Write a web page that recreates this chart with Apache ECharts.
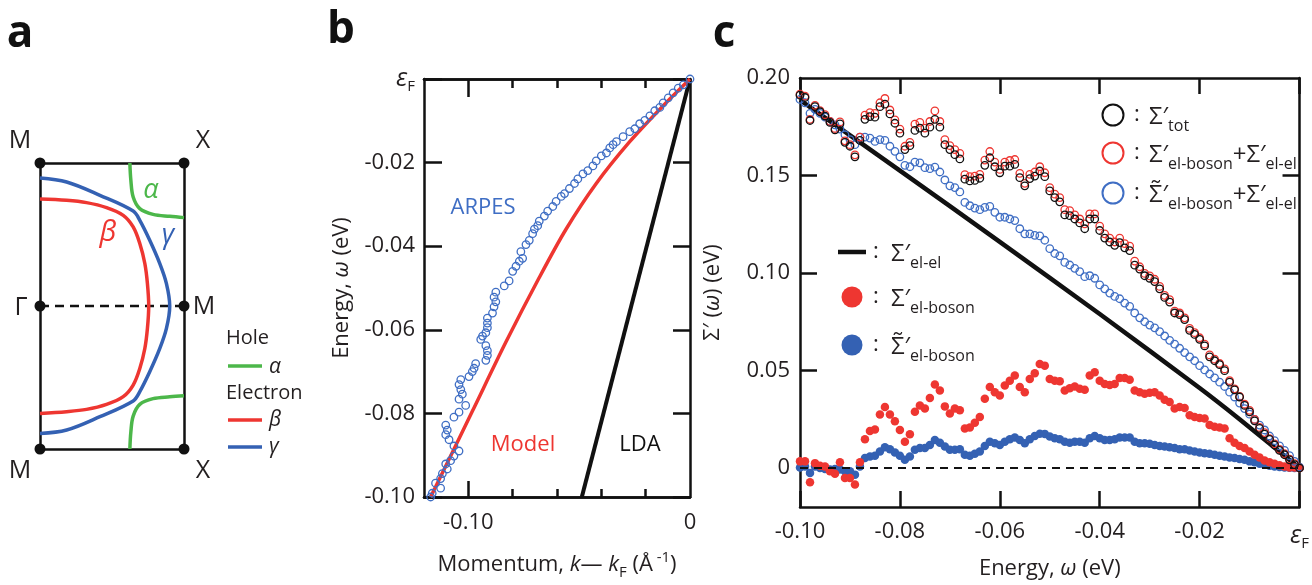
<!DOCTYPE html>
<html lang="en">
<head>
<meta charset="UTF-8">
<title>Fermi surface, dispersion and self-energy</title>
<style>
    html, body { margin: 0; padding: 0; background: #fff; }
    #chart { width: 1312px; height: 585px; }
</style>
</head>
<body>
<div id="chart"></div>
<script src="https://cdn.jsdelivr.net/npm/echarts@6/dist/echarts.min.js"></script>
<script>
// ---------- panel a : Fermi surface sketch, x 0..1 (left to right), y -1..1 (M to M)
var alphaTop    = [[0.624,1],[0.631,0.879],[0.647,0.762],[0.693,0.681],[0.785,0.641],[0.901,0.627],[1,0.618]];
var alphaBottom = [[1,-0.628],[0.901,-0.635],[0.785,-0.648],[0.693,-0.688],[0.647,-0.77],[0.631,-0.88],[0.624,-1]];
var betaBand  = [[0,0.748],[0.185,0.739],[0.323,0.723],[0.462,0.688],[0.578,0.634],[0.647,0.553],[0.693,0.437],[0.728,0.297],[0.746,0.157],[0.755,0],
                 [0.746,-0.157],[0.728,-0.297],[0.693,-0.437],[0.647,-0.553],[0.578,-0.634],[0.462,-0.688],[0.323,-0.723],[0.185,-0.739],[0,-0.751]];
var gammaBand = [[0,0.895],[0.185,0.867],[0.416,0.774],[0.647,0.664],[0.693,0.599],[0.762,0.46],[0.832,0.297],[0.878,0.157],[0.901,0],
                 [0.878,-0.157],[0.832,-0.297],[0.762,-0.46],[0.693,-0.599],[0.647,-0.664],[0.416,-0.774],[0.185,-0.867],[0,-0.891]];
var zonePoints = [[0,1],[1,1],[0,0],[1,0],[0,-1],[1,-1]];
var zoneCut = [[0,0],[1,0]];

// ---------- panel b : dispersion (momentum in 1/A, energy in eV)
var arpesK = [0,-0.0030,-0.0053,-0.0076,-0.0098,-0.0121,-0.0136,-0.0159,-0.0181,-0.0204,-0.0227,-0.0249,-0.0272,-0.0302,-0.0332,-0.0347,
    -0.0362,-0.0377,-0.0400,-0.0423,-0.0438,-0.0461,-0.0483,-0.0506,-0.0521,-0.0544,-0.0566,-0.0581,-0.0604,-0.0619,-0.0642,-0.0657,
    -0.0680,-0.0687,-0.0702,-0.0710,-0.0725,-0.0740,-0.0763,-0.0755,-0.0770,-0.0785,-0.0800,-0.0816,-0.0838,-0.0876,-0.0884,-0.0876,
    -0.0884,-0.0891,-0.0914,-0.0914,-0.0914,-0.0921,-0.0936,-0.0944,-0.0921,-0.0914,-0.0914,-0.0921,-0.0967,-0.0974,-0.0982,-0.0997,
    -0.1034,-0.1042,-0.1034,-0.1027,-0.1042,-0.1012,-0.1042,-0.1065,-0.1102,-0.1095,-0.1102,-0.1087,-0.1065,-0.1042,-0.1065,-0.1080,
    -0.1102,-0.1095,-0.1117,-0.1125,-0.1148,-0.1125,-0.1163,-0.1170];
var arpesE = [0,-0.0014,-0.0022,-0.0033,-0.0045,-0.0057,-0.0068,-0.0076,-0.0088,-0.0099,-0.0107,-0.0119,-0.0126,-0.0138,-0.0150,-0.0157,
    -0.0165,-0.0177,-0.0184,-0.0196,-0.0208,-0.0219,-0.0227,-0.0239,-0.0250,-0.0262,-0.0274,-0.0281,-0.0293,-0.0305,-0.0316,-0.0328,
    -0.0340,-0.0351,-0.0359,-0.0370,-0.0386,-0.0396,-0.0413,-0.0429,-0.0436,-0.0448,-0.0460,-0.0483,-0.0495,-0.0510,-0.0522,-0.0533,
    -0.0545,-0.0560,-0.0572,-0.0584,-0.0595,-0.0607,-0.0615,-0.0623,-0.0638,-0.0650,-0.0661,-0.0673,-0.0681,-0.0692,-0.0700,-0.0712,
    -0.0719,-0.0731,-0.0743,-0.0754,-0.0766,-0.0781,-0.0797,-0.0809,-0.0828,-0.0840,-0.0851,-0.0863,-0.0878,-0.0890,-0.0902,-0.0913,
    -0.0921,-0.0933,-0.0944,-0.0956,-0.0967,-0.0979,-0.0991,-0.1000];
var modelK = [0,-0.0121,-0.0272,-0.0423,-0.0560,-0.0680,-0.0831,-0.0982,-0.1170];
var modelE = [0,-0.0064,-0.0150,-0.0250,-0.0360,-0.0475,-0.0630,-0.0795,-0.1000];
var ldaK = [0,-0.0488];
var ldaE = [0,-0.1000];

// ---------- panel c : real part of the self-energy (eV) against energy (eV)
var energy = [-0.100,-0.099,-0.098,-0.097,-0.096,-0.095,-0.094,-0.093,-0.092,-0.091,
    -0.090,-0.089,-0.088,-0.087,-0.086,-0.085,-0.084,-0.083,-0.082,-0.081,
    -0.080,-0.079,-0.078,-0.077,-0.076,-0.075,-0.074,-0.073,-0.072,-0.071,
    -0.070,-0.069,-0.068,-0.067,-0.066,-0.065,-0.064,-0.063,-0.062,-0.061,
    -0.060,-0.059,-0.058,-0.057,-0.056,-0.055,-0.054,-0.053,-0.052,-0.051,
    -0.050,-0.049,-0.048,-0.047,-0.046,-0.045,-0.044,-0.043,-0.042,-0.041,
    -0.040,-0.039,-0.038,-0.037,-0.036,-0.035,-0.034,-0.033,-0.032,-0.031,
    -0.030,-0.029,-0.028,-0.027,-0.026,-0.025,-0.024,-0.023,-0.022,-0.021,
    -0.020,-0.019,-0.018,-0.017,-0.016,-0.015,-0.014,-0.013,-0.012,-0.011,
    -0.010,-0.009,-0.008,-0.007,-0.006,-0.005,-0.004,-0.003,-0.002,-0.001,0];
var sigmaTot = [0.1912,0.1900,0.1782,0.1853,0.1827,0.1805,0.1772,0.1734,0.1765,0.1670,
    0.1650,0.1596,0.1680,0.1788,0.1802,0.1799,0.1853,0.1866,0.1816,0.1768,
    0.1717,0.1633,0.1653,0.1731,0.1743,0.1717,0.1748,0.1788,0.1748,0.1658,
    0.1633,0.1607,0.1585,0.1481,0.1472,0.1475,0.1486,0.1552,0.1591,0.1545,
    0.1514,0.1548,0.1548,0.1557,0.1489,0.1447,0.1484,0.1497,0.1523,0.1494,
    0.1421,0.1387,0.1365,0.1298,0.1294,0.1277,0.1257,0.1227,0.1277,0.1277,
    0.1218,0.1179,0.1159,0.1142,0.1156,0.1129,0.1115,0.1040,0.1020,0.0986,
    0.0973,0.0956,0.0919,0.0875,0.0851,0.0795,0.0787,0.0761,0.0706,0.0685,
    0.0660,0.0626,0.0570,0.0550,0.0530,0.0499,0.0440,0.0401,0.0364,0.0321,
    0.0288,0.0242,0.0203,0.0174,0.0147,0.0118,0.0090,0.0068,0.0042,0.0017,0];
var sigmaSum = [0.1917,0.1907,0.1788,0.1860,0.1833,0.1812,0.1778,0.1741,0.1775,0.1678,
    0.1658,0.1606,0.1697,0.1810,0.1822,0.1819,0.1873,0.1895,0.1836,0.1785,
    0.1738,0.1650,0.1670,0.1763,0.1772,0.1743,0.1777,0.1831,0.1777,0.1684,
    0.1653,0.1633,0.1613,0.1504,0.1494,0.1497,0.1506,0.1579,0.1623,0.1569,
    0.1531,0.1569,0.1577,0.1582,0.1511,0.1460,0.1506,0.1518,0.1545,0.1514,
    0.1438,0.1404,0.1387,0.1325,0.1320,0.1298,0.1277,0.1252,0.1303,0.1303,
    0.1240,0.1201,0.1179,0.1159,0.1179,0.1151,0.1138,0.1061,0.1032,0.0998,
    0.0985,0.0968,0.0931,0.0885,0.0863,0.0804,0.0795,0.0770,0.0716,0.0694,
    0.0668,0.0635,0.0580,0.0558,0.0536,0.0508,0.0448,0.0406,0.0367,0.0327,
    0.0296,0.0249,0.0208,0.0181,0.0151,0.0124,0.0096,0.0073,0.0046,0.0022,0];
var sigmaTildeSum = [0.1890,0.1873,0.1819,0.1839,0.1819,0.1799,0.1777,0.1760,0.1738,0.1709,
    0.1684,0.1658,0.1697,0.1697,0.1692,0.1675,0.1684,0.1680,0.1650,0.1624,
    0.1596,0.1552,0.1545,0.1569,0.1565,0.1540,0.1535,0.1543,0.1518,0.1477,
    0.1447,0.1438,0.1416,0.1362,0.1345,0.1333,0.1325,0.1337,0.1342,0.1311,
    0.1286,0.1286,0.1277,0.1269,0.1227,0.1201,0.1201,0.1193,0.1190,0.1168,
    0.1125,0.1100,0.1088,0.1054,0.1041,0.1024,0.1007,0.0981,0.0986,0.0973,
    0.0939,0.0919,0.0897,0.0880,0.0868,0.0846,0.0829,0.0795,0.0770,0.0750,
    0.0733,0.0719,0.0699,0.0677,0.0655,0.0635,0.0614,0.0592,0.0570,0.0550,
    0.0525,0.0503,0.0482,0.0462,0.0440,0.0418,0.0389,0.0364,0.0333,0.0305,
    0.0276,0.0249,0.0220,0.0195,0.0164,0.0140,0.0113,0.0090,0.0063,0.0034,0.0005];
var sigmaBoson = [0.0034,0.0034,-0.0073,0.0025,0.0012,0.0008,-0.0017,-0.0029,0.0029,-0.0051,
    -0.0051,-0.0085,0.0029,0.0147,0.0190,0.0198,0.0274,0.0313,0.0274,0.0240,
    0.0195,0.0135,0.0173,0.0288,0.0321,0.0305,0.0359,0.0428,0.0398,0.0316,
    0.0279,0.0305,0.0296,0.0203,0.0208,0.0232,0.0262,0.0355,0.0415,0.0389,
    0.0372,0.0423,0.0448,0.0474,0.0415,0.0389,0.0457,0.0486,0.0533,0.0525,
    0.0457,0.0448,0.0445,0.0398,0.0409,0.0418,0.0406,0.0401,0.0474,0.0491,
    0.0448,0.0431,0.0426,0.0431,0.0462,0.0462,0.0452,0.0398,0.0389,0.0381,
    0.0386,0.0389,0.0372,0.0350,0.0338,0.0305,0.0313,0.0308,0.0271,0.0262,
    0.0257,0.0254,0.0220,0.0212,0.0208,0.0203,0.0152,0.0130,0.0113,0.0102,
    0.0085,0.0068,0.0054,0.0039,0.0029,0.0022,0.0014,0.0008,0.0003,0.0002,0];
var sigmaBosonTilde = [0.0003,0.0008,-0.0025,0.0008,0,-0.0005,-0.0008,-0.0005,-0.0008,-0.0017,
    -0.0017,-0.0034,0.0008,0.0051,0.0059,0.0063,0.0085,0.0107,0.0096,0.0080,
    0.0063,0.0042,0.0059,0.0093,0.0102,0.0102,0.0118,0.0144,0.0130,0.0110,
    0.0093,0.0093,0.0096,0.0068,0.0063,0.0073,0.0085,0.0113,0.0135,0.0127,
    0.0118,0.0135,0.0147,0.0157,0.0144,0.0127,0.0147,0.0164,0.0176,0.0175,
    0.0162,0.0152,0.0147,0.0135,0.0130,0.0135,0.0135,0.0130,0.0152,0.0164,
    0.0152,0.0144,0.0144,0.0147,0.0157,0.0157,0.0156,0.0135,0.0127,0.0127,
    0.0124,0.0118,0.0113,0.0110,0.0107,0.0102,0.0096,0.0096,0.0090,0.0085,
    0.0080,0.0076,0.0073,0.0068,0.0063,0.0059,0.0054,0.0051,0.0046,0.0042,
    0.0034,0.0029,0.0022,0.0017,0.0012,0.0008,0.0005,0.0003,0.0001,0,0];
var elElEnergy = [-0.100,-0.080,-0.060,-0.040,-0.020,-0.012,0];
var elElSigma  = [0.1887,0.1525,0.1160,0.0790,0.0410,0.0250,0];

var bTicks = [-0.10,-0.08,-0.06,-0.04,-0.02,0];
var cYTicks = [0,0.05,0.10,0.15,0.20];

// ---------- look
var FONT = '"Open Sans", "Noto Sans", "DejaVu Sans", sans-serif';
var INK = '#111111', TEXT = '#231f20';
var RED = '#ee3631', BLUE = '#3461b3', GREEN = '#4cb74a', OPENBLUE = '#3f6ec4';

function zip(xs, ys) { return xs.map(function (x, i) { return [x, ys[i]]; }); }

function frameAxis(extra) {
    return Object.assign({
        type: 'value',
        splitLine: { show: false },
        axisLine: { show: true, onZero: false, lineStyle: { color: INK, width: 2.5 } },
        axisTick: { show: false },
        axisLabel: { show: false }
    }, extra);
}
function ticks(len, values) {
    var t = { show: true, inside: true, length: len, lineStyle: { color: INK, width: 2.5 } };
    if (values) t.customValues = values;
    return t;
}
var epsRich = {
    e: { fontFamily: FONT, fontSize: 25, fontStyle: 'italic', color: TEXT, lineHeight: 30 },
    f: { fontFamily: FONT, fontSize: 15, color: TEXT, verticalAlign: 'bottom' }
};
function labels(fmt, values, margin) {
    var l = { show: true, color: TEXT, fontFamily: FONT, fontSize: 22, margin: margin,
        formatter: fmt, rich: epsRich, showMinLabel: true, showMaxLabel: true, hideOverlap: false };
    if (values) l.customValues = values;
    return l;
}
var nameRich = {
    t: { fontFamily: FONT, fontSize: 22, color: TEXT, lineHeight: 30 },
    i: { fontFamily: FONT, fontSize: 22, color: TEXT, fontStyle: 'italic', lineHeight: 30 },
    sub: { fontFamily: FONT, fontSize: 15, color: TEXT, verticalAlign: 'bottom' },
    sup: { fontFamily: FONT, fontSize: 15, color: TEXT, verticalAlign: 'top' }
};
function axisName(text, gap) {
    return { name: text, nameLocation: 'middle', nameGap: gap,
        nameTextStyle: { fontFamily: FONT, fontSize: 22, color: TEXT, rich: nameRich } };
}

var fmtB = function (v) { return Math.abs(v) < 1e-9 ? '{e|ε}{f|F}' : v.toFixed(2); };
var fmtBx = function (v) { return Math.abs(v) < 1e-9 ? '0' : v.toFixed(2); };
var fmtCy = function (v) { return Math.abs(v) < 1e-9 ? '0' : v.toFixed(2); };

// ---------- graphic labels and legends
var legendRich = {
    s: { fontFamily: FONT, fontSize: 24, fill: TEXT, lineHeight: 34 },
    b: { fontFamily: FONT, fontSize: 16, fill: TEXT, verticalAlign: 'bottom' }
};
function txt(x, y, text, size, color, extra) {
    return { type: 'text', x: x, y: y, silent: true,
        style: Object.assign({ text: text, fontFamily: FONT, fontSize: size, fill: color || TEXT,
            align: 'center', verticalAlign: 'middle' }, extra || {}) };
}
function seg(x1, x2, y, color, w) {
    return { type: 'line', silent: true, shape: { x1: x1, y1: y, x2: x2, y2: y },
        style: { stroke: color, lineWidth: w } };
}
function ring(cx, cy, color, filled) {
    return { type: 'circle', silent: true, shape: { cx: cx, cy: cy, r: 10.5 },
        style: filled ? { fill: color } : { fill: 'none', stroke: color, lineWidth: 2 } };
}
function rich(x, y, text) {
    return { type: 'text', x: x, y: y, silent: true,
        style: { text: text, rich: legendRich, fontFamily: FONT, fontSize: 24, fill: TEXT,
            align: 'left', verticalAlign: 'middle' } };
}

var graphics = [
    txt(20, 34, 'a', 44, INK, { fontWeight: 'bold' }),
    txt(341, 30, 'b', 44, INK, { fontWeight: 'bold' }),
    txt(724, 34, 'c', 44, INK, { fontWeight: 'bold' }),
    // zone labels
    txt(20, 141, 'M', 25), txt(203, 141, 'X', 25),
    txt(21, 308, 'Γ', 25), txt(204, 307, 'M', 25),
    txt(20, 471, 'M', 25), txt(203, 471, 'X', 25),
    txt(151, 190, 'α', 27, GREEN, { fontStyle: 'italic' }),
    txt(108, 233, 'β', 29, RED, { fontStyle: 'italic' }),
    txt(168, 235, 'γ', 27, BLUE, { fontStyle: 'italic' }),
    // legend of panel a
    txt(226, 338, 'Hole', 20, TEXT, { align: 'left' }),
    seg(228, 262, 366, GREEN, 3.5), txt(269, 367, 'α', 21, TEXT, { align: 'left', fontStyle: 'italic' }),
    txt(226, 393, 'Electron', 20, TEXT, { align: 'left' }),
    seg(228, 262, 420, RED, 3.5), txt(269, 420, 'β', 21, TEXT, { align: 'left', fontStyle: 'italic' }),
    seg(228, 262, 447, BLUE, 3.5), txt(269, 447, 'γ', 21, TEXT, { align: 'left', fontStyle: 'italic' }),
    // panel b annotations
    txt(483, 208, 'ARPES', 22, OPENBLUE),
    txt(523, 445, 'Model', 22, RED),
    txt(640, 445, 'LDA', 22, INK),
    // panel c legend, upper right
    ring(1113, 115, INK, false), txt(1137, 115, ':', 22), rich(1149, 117, '{s|Σ′}{b|tot}'),
    ring(1113, 153, RED, false), txt(1137, 153, ':', 22), rich(1149, 155, '{s|Σ′}{b|el-boson}{s|+Σ′}{b|el-el}'),
    ring(1113, 193, OPENBLUE, false), txt(1137, 193, ':', 22), rich(1149, 195, '{s|Σ̃′}{b|el-boson}{s|+Σ′}{b|el-el}'),
    // panel c legend, lower left
    seg(838, 866, 252, INK, 4.5), txt(876, 252, ':', 22), rich(891, 254, '{s|Σ′}{b|el-el}'),
    ring(852, 297, RED, true), txt(876, 297, ':', 22), rich(891, 299, '{s|Σ′}{b|el-boson}'),
    ring(852, 345, BLUE, true), txt(876, 345, ':', 22), rich(891, 347, '{s|Σ̃′}{b|el-boson}')
];

function curve(data, color, xi, yi) {
    return { type: 'line', data: data, xAxisIndex: xi, yAxisIndex: yi, smooth: 0.35, showSymbol: false,
        clip: false, silent: true, lineStyle: { color: color, width: 3.5 } };
}
function dots(data, color, size, xi, yi, z) {
    return { type: 'scatter', data: data, xAxisIndex: xi, yAxisIndex: yi, symbol: 'circle', symbolSize: size,
        clip: false, silent: true, z: z, itemStyle: { color: color, opacity: 1 } };
}
function rings(data, color, xi, yi, z) {
    return { type: 'scatter', data: data, xAxisIndex: xi, yAxisIndex: yi, symbol: 'circle', symbolSize: 7.5,
        clip: false, silent: true, z: z,
        itemStyle: { color: 'rgba(255,255,255,0)', borderColor: color, borderWidth: 1.3, opacity: 1 } };
}

var option = {
    backgroundColor: '#ffffff',
    animation: false,
    textStyle: { fontFamily: FONT },
    grid: [
        { left: 40, top: 163, width: 144, height: 286 },
        { left: 424, top: 79, width: 266, height: 430 },
        { left: 800, top: 78, width: 503, height: 433 }
    ],
    xAxis: [
        frameAxis({ gridIndex: 0, min: 0, max: 1, position: 'bottom' }),
        frameAxis({ gridIndex: 0, min: 0, max: 1, position: 'top' }),
        frameAxis({ gridIndex: 1, min: -0.12, max: 0, position: 'bottom', axisTick: ticks(8, [-0.08,-0.06,-0.04,-0.02]) }),
        Object.assign(frameAxis({ gridIndex: 1, min: -0.12, max: 0, position: 'bottom', axisTick: ticks(16, [-0.10]),
            axisLabel: labels(fmtBx, [-0.10, 0], 15) }),
            axisName('{t|Momentum, }{i|k}{t|— }{i|k}{sub|F}{t| (Å}{sup| -1}{t|)}', 53)),
        frameAxis({ gridIndex: 1, min: -0.12, max: 0, position: 'top', axisTick: ticks(9, [-0.08,-0.06,-0.04,-0.02]) }),
        frameAxis({ gridIndex: 1, min: -0.12, max: 0, position: 'top', axisTick: ticks(18, [-0.10]) }),
        Object.assign(frameAxis({ gridIndex: 2, min: -0.10, max: 0, interval: 0.02, position: 'bottom',
            axisTick: ticks(16), axisLabel: labels(fmtB, null, 14) }),
            axisName('{t|Energy, }{i|ω}{t| (eV)}', 47)),
        frameAxis({ gridIndex: 2, min: -0.10, max: 0, interval: 0.02, position: 'top', axisTick: ticks(16) })
    ],
    yAxis: [
        frameAxis({ gridIndex: 0, min: -1, max: 1, position: 'left' }),
        frameAxis({ gridIndex: 0, min: -1, max: 1, position: 'right' }),
        Object.assign(frameAxis({ gridIndex: 1, min: -0.10, max: 0, interval: 0.02, position: 'left',
            axisTick: ticks(18, bTicks), axisLabel: labels(fmtB, bTicks, 9) }),
            axisName('{t|Energy, }{i|ω}{t| (eV)}', 67)),
        frameAxis({ gridIndex: 1, min: -0.10, max: 0, interval: 0.02, position: 'right', axisTick: ticks(17, bTicks) }),
        Object.assign(frameAxis({ gridIndex: 2, min: -0.02, max: 0.20, position: 'left',
            axisTick: ticks(17, [0.05, 0.10, 0.15]), axisLabel: labels(fmtCy, cYTicks, 10) }),
            axisName('{t|Σ′ (}{i|ω}{t|) (eV)}', 72)),
        frameAxis({ gridIndex: 2, min: -0.02, max: 0.20, position: 'right', axisTick: ticks(17, [0.05, 0.10, 0.15]) })
    ],
    series: [
        // panel a
        { type: 'line', data: zoneCut, xAxisIndex: 0, yAxisIndex: 0, showSymbol: false, silent: true, clip: false,
          lineStyle: { color: INK, width: 2.5, type: [9, 6] } },
        curve(betaBand, RED, 0, 0),
        curve(gammaBand, BLUE, 0, 0),
        curve(alphaTop, GREEN, 0, 0),
        curve(alphaBottom, GREEN, 0, 0),
        dots(zonePoints, INK, 11, 0, 0, 5),
        // panel b
        { type: 'line', data: zip(ldaK, ldaE), xAxisIndex: 3, yAxisIndex: 2, showSymbol: false, silent: true,
          lineStyle: { color: INK, width: 4 } },
        { type: 'line', data: zip(modelK, modelE), xAxisIndex: 3, yAxisIndex: 2, showSymbol: false, silent: true,
          smooth: 0.3, lineStyle: { color: RED, width: 3.5 } },
        rings(zip(arpesK, arpesE), OPENBLUE, 3, 2, 4),
        // panel c
        { type: 'line', data: zip(elElEnergy, elElSigma), xAxisIndex: 6, yAxisIndex: 4, showSymbol: false, silent: true,
          smooth: 0.2, lineStyle: { color: INK, width: 4.5 },
          markLine: { silent: true, symbol: 'none', label: { show: false },
              lineStyle: { color: INK, width: 2.2, type: [8, 6] }, data: [{ yAxis: 0 }] } },
        dots(zip(energy, sigmaBosonTilde), BLUE, 8.5, 6, 4, 3),
        dots(zip(energy, sigmaBoson), RED, 8.5, 6, 4, 4),
        rings(zip(energy, sigmaTildeSum), OPENBLUE, 6, 4, 5),
        rings(zip(energy, sigmaSum), RED, 6, 4, 6),
        rings(zip(energy, sigmaTot), INK, 6, 4, 7)
    ],
    graphic: { elements: graphics }
};

var chart = echarts.init(document.getElementById('chart'));
chart.setOption(option);
</script>
</body>
</html>
